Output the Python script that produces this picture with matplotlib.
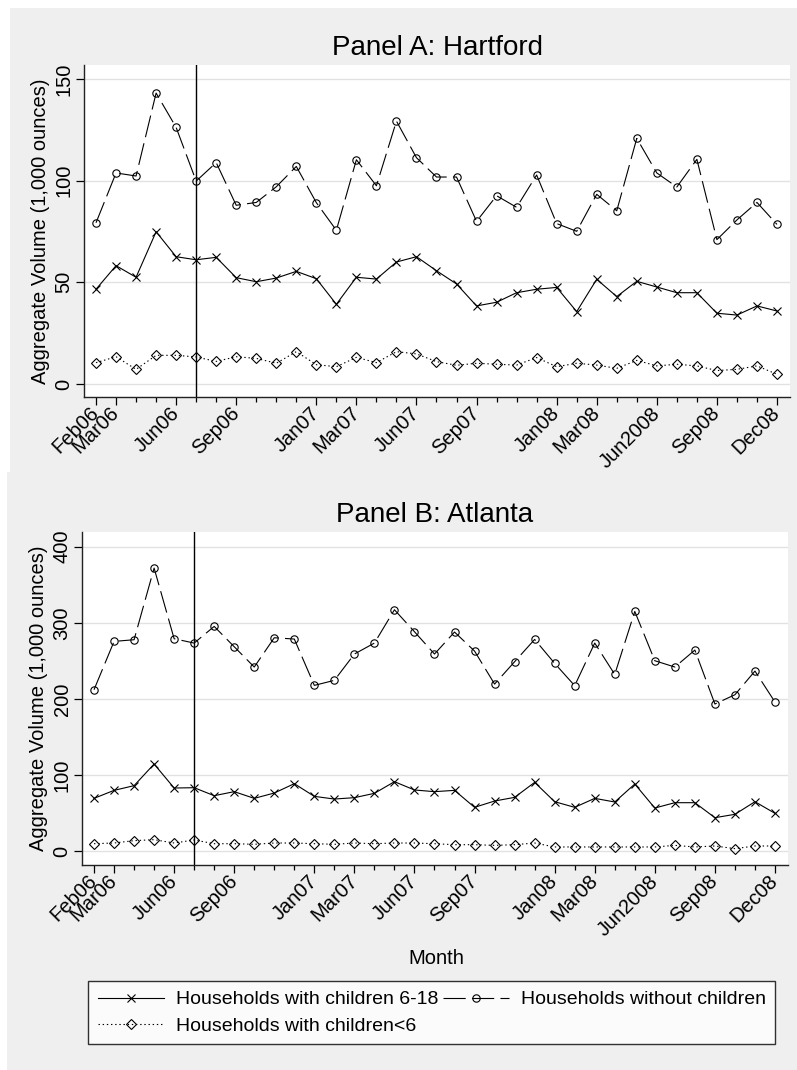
import matplotlib
matplotlib.use("Agg")
from matplotlib import pyplot as plt
from matplotlib.patches import Rectangle

plt.rcParams["font.family"] = ["Liberation Sans", "DejaVu Sans"]
plt.rcParams["lines.scale_dashes"] = False

# * DATA -----------------------------------------------------------------------

months = ["Feb06", "Mar06", "Apr06", "May06", "Jun06", "Jul06", "Aug06",
          "Sep06", "Oct06", "Nov06", "Dec06", "Jan07", "Feb07", "Mar07",
          "Apr07", "May07", "Jun07", "Jul07", "Aug07", "Sep07", "Oct07",
          "Nov07", "Dec07", "Jan08", "Feb08", "Mar08", "Apr08", "May08",
          "Jun08", "Jul08", "Aug08", "Sep08", "Oct08", "Nov08", "Dec08"]

tick_months = ["Feb06", "Mar06", "Jun06", "Sep06", "Jan07", "Mar07", "Jun07",
               "Sep07", "Jan08", "Mar08", "Jun08", "Sep08", "Dec08"]
tick_labels = ["Feb06", "Mar06", "Jun06", "Sep06", "Jan07", "Mar07", "Jun07",
               "Sep07", "Jan08", "Mar08", "Jun2008", "Sep08", "Dec08"]

event_month = "Jul06"

# Panel A: Hartford
hartford_kids_6_18 = [46.6, 58.2, 52.5, 74.9, 62.6, 61.1, 62.3, 52.3, 50.3,
                      52.1, 55.4, 51.8, 39.2, 52.5, 51.6, 60.0, 62.6, 55.7,
                      49.2, 38.4, 40.2, 44.9, 46.6, 47.5, 35.6, 51.5, 43.0,
                      50.5, 47.7, 44.9, 44.9, 34.8, 33.9, 38.4, 35.9]
hartford_no_kids = [79.3, 103.8, 102.3, 143.1, 126.2, 99.8, 108.9, 87.9, 89.3,
                    97.0, 107.0, 89.2, 75.6, 110.3, 97.5, 129.3, 111.3, 101.8,
                    101.8, 80.0, 92.6, 86.9, 102.8, 78.9, 75.1, 93.3, 85.2,
                    120.8, 103.8, 96.9, 110.5, 71.0, 80.7, 89.3, 78.5]
hartford_kids_under_6 = [10.5, 13.4, 7.2, 14.1, 14.1, 13.3, 11.1, 13.4, 12.6,
                         10.2, 15.9, 9.5, 8.5, 13.1, 10.5, 15.9, 14.8, 11.0,
                         9.2, 10.2, 9.7, 9.3, 13.0, 8.5, 10.2, 9.3, 7.7,
                         11.6, 8.9, 9.7, 8.9, 6.6, 7.2, 8.9, 4.8]

# Panel B: Atlanta
atlanta_kids_6_18 = [69.2, 79.7, 85.9, 114.3, 82.8, 83.2, 72.7, 78.0, 69.2,
                     76.2, 88.5, 71.8, 68.3, 70.1, 75.8, 91.1, 80.2, 78.0,
                     79.7, 57.4, 65.7, 70.5, 90.2, 64.8, 57.4, 69.2, 64.4,
                     88.0, 56.5, 63.5, 63.5, 43.8, 48.2, 64.8, 49.5]
atlanta_no_kids = [212.0, 275.5, 277.7, 371.9, 279.0, 273.3, 295.2, 268.5,
                   241.8, 280.3, 278.6, 217.7, 224.3, 258.9, 273.3, 317.1,
                   288.2, 258.9, 287.8, 262.8, 219.4, 248.8, 278.1, 246.6,
                   217.3, 273.3, 232.1, 314.9, 250.1, 241.8, 264.1, 193.2,
                   205.4, 236.5, 195.8]
atlanta_kids_under_6 = [9.6, 10.5, 13.6, 14.9, 10.5, 14.5, 9.6, 9.6, 8.8,
                        10.5, 10.5, 9.6, 8.8, 10.5, 9.6, 10.5, 10.5, 9.6,
                        8.3, 8.3, 7.4, 8.3, 10.5, 5.3, 5.3, 5.3, 5.3,
                        5.3, 5.3, 7.4, 5.3, 6.6, 3.1, 6.6, 6.6]

series_names = ["Households with children 6-18",
                "Households without children",
                "Households with children<6"]

# * FIGURE ---------------------------------------------------------------------

W, H = 797, 1070
DPI = 100
BG = "#efefef"
FS = 14.5

fig = plt.figure(figsize=(W / DPI, H / DPI), dpi=DPI, facecolor="white")

# Stata-like grey graph regions (pixel boxes: left, top, right, bottom)
for (l, t, r, b) in [(10, 8, 797, 472), (7, 472, 797, 1070)]:
    fig.patches.append(Rectangle((l / W, 1 - b / H), (r - l) / W, (b - t) / H,
                                 transform=fig.transFigure, facecolor=BG,
                                 edgecolor="none", zorder=-10))


def px_axes(l, t, r, b):
    return fig.add_axes([l / W, 1 - b / H, (r - l) / W, (b - t) / H])


def draw_panel(ax, title, kids_6_18, no_kids, kids_under_6, yticks, ylim):
    x = list(range(len(months)))
    ax.set_facecolor("white")

    h1, = ax.plot(x, kids_6_18, color="black", lw=0.8, marker="x", ms=6,
                  mew=0.8, zorder=3)
    h2, = ax.plot(x, no_kids, color="black", lw=0.8, marker="o", ms=5.3,
                  mfc="none", mew=0.8, dashes=(16, 4.5), zorder=3)
    h3, = ax.plot(x, kids_under_6, color="black", lw=0.8, marker="D", ms=4.8,
                  mfc="none", mew=0.8, dashes=(1, 2), zorder=3)

    ax.axvline(months.index(event_month), color="black", lw=1.0, zorder=2)

    ax.set_xlim(-0.6, 34.65)
    ax.set_ylim(*ylim)
    ax.set_yticks(yticks)
    ax.set_yticklabels([str(v) for v in yticks], rotation=90, va="center",
                       fontsize=FS)
    ax.yaxis.grid(True, color="#e2e2e2", lw=1.0)
    ax.set_axisbelow(True)

    ax.set_xticks(x, minor=True)
    ax.set_xticks([months.index(m) for m in tick_months])
    ax.set_xticklabels(tick_labels, rotation=45, ha="right", va="center",
                       rotation_mode="anchor", fontsize=FS)

    ax.tick_params(axis="y", length=5.5, width=0.9, pad=2)
    ax.tick_params(axis="x", which="major", length=5.5, width=0.9, pad=4)
    ax.tick_params(axis="x", which="minor", length=3.5, width=0.9)

    for side in ["top", "right"]:
        ax.spines[side].set_visible(False)
    for side in ["left", "bottom"]:
        ax.spines[side].set_linewidth(1.0)
        ax.spines[side].set_color("#222222")

    ax.set_ylabel("Aggregate Volume (1,000 ounces)", fontsize=FS, labelpad=3)
    ax.set_title(title, fontsize=20, pad=7)
    return h1, h2, h3


ax_a = px_axes(84, 65, 790, 397)
draw_panel(ax_a, "Panel A: Hartford", hartford_kids_6_18, hartford_no_kids,
           hartford_kids_under_6, [0, 50, 100, 150], (-6.4, 156.9))

ax_b = px_axes(82, 532, 788, 865)
handles = draw_panel(ax_b, "Panel B: Atlanta", atlanta_kids_6_18,
                     atlanta_no_kids, atlanta_kids_under_6,
                     [0, 100, 200, 300, 400], (-18.4, 419.3))

fig.text(436 / W, 1 - 958 / H, "Month", ha="center", va="center", fontsize=FS)

# legend filled column-wise, so reorder to get two entries on the first row
order = [0, 2, 1]
leg = fig.legend([handles[i] for i in order], [series_names[i] for i in order],
                 ncol=2, loc="upper left",
                 bbox_to_anchor=(88 / W, 1 - 981 / H),
                 frameon=True, fancybox=False, fontsize=14,
                 handlelength=3.4, handletextpad=0.6, columnspacing=0.25,
                 labelspacing=0.45, borderpad=0.5, borderaxespad=0)
leg.get_frame().set_edgecolor("black")
leg.get_frame().set_linewidth(1.0)

fig.savefig("out.png", dpi=DPI, facecolor="white")
